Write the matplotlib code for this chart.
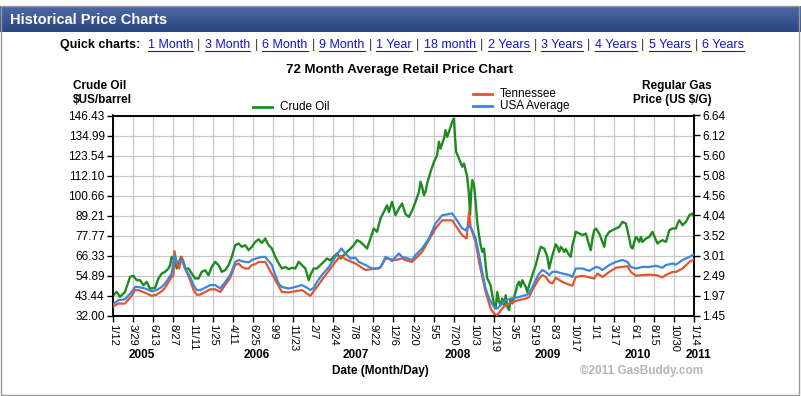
import matplotlib
matplotlib.use("Agg")
import matplotlib.pyplot as plt
import numpy as np
from matplotlib.lines import Line2D
from matplotlib.patches import Rectangle

plt.rcParams["font.family"] = ["Liberation Sans", "DejaVu Sans"]

W, H = 801, 396

# ---- data (x in tick units: 0 = 1/12/2005 ... 29 = 1/14/2011) ----
date_labels = ["1/12", "3/29", "6/13", "8/27", "11/11", "1/25", "4/11", "6/25", "9/9",
               "11/23", "2/7", "4/24", "7/8", "9/22", "12/6", "2/20", "5/5", "7/20",
               "10/3", "12/19", "3/5", "5/19", "8/3", "10/17", "1/1", "3/17", "6/1",
               "8/15", "10/30", "1/14"]
years = ["2005", "2006", "2007", "2008", "2009", "2010", "2011"]
year_pos = [1.43, 7.18, 12.1, 17.2, 21.7, 26.2, 29.2]

crude_ticks = ["146.43", "134.99", "123.54", "112.10", "100.66", "89.21", "77.77",
               "66.33", "54.89", "43.44", "32.00"]
gas_ticks = ["6.64", "6.12", "5.60", "5.08", "4.56", "4.04", "3.52", "3.01", "2.49",
             "1.97", "1.45"]

crude_t = [0.00, 0.18, 0.35, 0.52, 0.60, 0.85, 1.02, 1.18, 1.35, 1.52, 1.68, 1.85, 2.10,
           2.27, 2.43, 2.60, 2.77, 2.85, 2.93, 3.02, 3.10, 3.18, 3.30, 3.40, 3.52, 3.60,
           3.77, 3.93, 4.10, 4.27, 4.43, 4.60, 4.77, 4.93, 5.10, 5.27, 5.43, 5.60, 5.77,
           5.93, 6.10, 6.27, 6.43, 6.60, 6.77, 6.93, 7.10, 7.27, 7.43, 7.60, 7.77, 7.93,
           8.10, 8.27, 8.43, 8.60, 8.77, 8.93, 9.10, 9.27, 9.43, 9.60, 9.77, 9.85, 10.02,
           10.18, 10.35, 10.52, 10.68, 10.85, 11.02, 11.18, 11.35, 11.52, 11.68, 11.85,
           12.02, 12.18, 12.35, 12.52, 12.68, 12.85, 13.02, 13.18, 13.35, 13.52, 13.68,
           13.77, 13.93, 14.10, 14.27, 14.43, 14.60, 14.77, 14.93, 15.10, 15.27, 15.35,
           15.43, 15.52, 15.60, 15.68, 15.85, 16.02, 16.18, 16.27, 16.35, 16.52, 16.60,
           16.68, 16.77, 16.85, 16.93, 17.02, 17.07, 17.13, 17.27, 17.43, 17.52, 17.60,
           17.68, 17.77, 17.82, 17.88, 17.93, 18.02, 18.10, 18.18, 18.27, 18.35, 18.43,
           18.52, 18.60, 18.68, 18.85, 18.93, 19.02, 19.10, 19.18, 19.27, 19.35, 19.43,
           19.52, 19.60, 19.68, 19.77, 19.85, 19.93, 20.02, 20.10, 20.18, 20.27, 20.35,
           20.43, 20.60, 20.68, 20.77, 20.93, 21.10, 21.27, 21.35, 21.52, 21.68, 21.77,
           21.93, 22.10, 22.18, 22.27, 22.35, 22.43, 22.52, 22.60, 22.77, 22.85, 22.93,
           23.02, 23.10, 23.27, 23.43, 23.60, 23.77, 23.85, 23.93, 24.02, 24.10, 24.27,
           24.43, 24.52, 24.60, 24.77, 24.93, 25.10, 25.27, 25.43, 25.60, 25.68, 25.77,
           25.85, 25.93, 26.02, 26.10, 26.18, 26.27, 26.35, 26.43, 26.60, 26.77, 26.93,
           27.10, 27.18, 27.27, 27.43, 27.60, 27.77, 27.93, 28.10, 28.18, 28.27, 28.43,
           28.60, 28.77, 28.93, 29.00]
crude_v = [43.3, 45.5, 42.7, 44.6, 45.5, 54.1, 54.7, 52.2, 52.2, 49.3, 51.3, 47.4, 47.8,
           53.2, 56.0, 57.0, 58.9, 60.8, 65.6, 64.6, 62.7, 58.9, 62.7, 65.6, 62.7, 58.9,
           58.9, 56.0, 53.2, 53.2, 57.0, 57.9, 55.1, 59.8, 62.7, 60.8, 57.0, 57.9, 60.8,
           65.6, 72.2, 73.2, 71.3, 72.2, 69.4, 71.3, 74.1, 75.6, 73.5, 76.0, 72.2, 70.3,
           65.6, 61.8, 58.9, 59.8, 58.5, 59.3, 58.9, 62.7, 60.8, 58.9, 52.2, 55.1, 58.9,
           58.9, 60.8, 62.7, 64.6, 63.6, 65.6, 67.5, 64.6, 66.5, 68.4, 70.3,
           72.2, 75.1, 74.1, 72.2, 70.3, 76.0, 81.8, 79.9, 87.5, 91.3, 95.1,
           91.3, 97.0, 89.4, 93.2, 96.1, 90.0, 88.4, 92.0, 97.0, 102.8, 108.5,
           105.6, 100.8, 102.8, 107.5, 114.2, 119.9, 123.7, 131.4, 127.5, 133.3, 138.0,
           134.2, 137.1, 139.9, 142.8, 144.7, 134.2, 125.6, 121.8, 117.1, 119.0, 115.2,
           111.3, 100.8, 89.4, 102.8, 109.4, 106.6, 97.0, 85.6, 77.9, 72.2, 68.4,
           70.3, 60.8, 53.2, 49.3, 43.6, 37.9, 36.0, 45.5, 39.8, 37.9, 41.7,
           37.9, 43.6, 37.0, 35.1, 41.7, 38.9, 42.7, 45.5, 49.3, 51.3, 48.4,
           52.2, 48.4, 45.5, 49.3, 55.1, 60.8, 68.4, 71.3, 70.3, 65.6, 58.9,
           66.5, 72.7, 71.3, 68.4, 71.3, 70.3, 68.4, 69.9, 66.5, 65.6, 72.2,
           76.0, 79.9, 78.9, 78.0, 78.9, 72.2, 69.4, 76.0, 80.8, 81.8, 78.9,
           74.1, 71.3, 77.0, 79.9, 80.8, 81.8, 82.7, 85.6, 84.6, 80.8, 76.0,
           71.3, 70.3, 74.1, 77.0, 76.0, 74.1, 77.0, 74.1, 76.0, 77.0, 79.9,
           75.1, 73.2, 74.1, 75.1, 74.1, 80.8, 81.8, 81.8, 84.6, 86.5, 83.7,
           85.6, 89.4, 90.4, 88.5]

usa_t = [0.00, 0.27, 0.60, 0.93, 1.10, 1.27, 1.60, 1.93, 2.18, 2.43, 2.60, 2.77, 2.93,
         3.05, 3.15, 3.27, 3.43, 3.60, 3.85, 4.02, 4.18, 4.35, 4.60, 4.85, 5.10, 5.35,
         5.60, 5.85, 6.10, 6.27, 6.43, 6.60, 6.77, 6.93, 7.10, 7.27, 7.43, 7.60, 7.93,
         8.10, 8.27, 8.43, 8.77, 9.10, 9.43, 9.68, 9.85, 10.02, 10.18, 10.43, 10.77,
         11.10, 11.40, 11.60, 11.85, 12.10, 12.27, 12.60, 12.93, 13.27, 13.43, 13.60,
         13.77, 13.93, 14.10, 14.27, 14.43, 14.60, 14.93, 15.10, 15.43, 15.77, 16.10,
         16.43, 16.93, 17.10, 17.43, 17.60, 17.77, 17.93, 18.10, 18.27, 18.43, 18.60,
         18.77, 19.02, 19.18, 19.35, 19.60, 19.93, 20.27, 20.60, 20.77, 20.93, 21.10,
         21.27, 21.43, 21.60, 21.77, 21.93, 22.10, 22.43, 22.77, 22.93, 23.10, 23.43,
         23.77, 24.10, 24.27, 24.43, 24.77, 25.10, 25.43, 25.68, 25.85, 26.10, 26.43,
         26.77, 27.10, 27.43, 27.60, 27.93, 28.10, 28.43, 28.77, 29.00]
usa_v = [1.74, 1.85, 1.87, 2.06, 2.19, 2.19, 2.15, 2.08, 2.11, 2.19, 2.28, 2.41, 2.54,
         3.00, 2.86, 2.84, 2.89, 2.67, 2.45, 2.24, 2.11, 2.11, 2.17, 2.24, 2.24, 2.15,
         2.32, 2.50, 2.84, 2.89, 2.86, 2.84, 2.83, 2.89, 2.92, 2.95, 2.97, 2.97, 2.76,
         2.50, 2.28, 2.19, 2.15, 2.19, 2.24, 2.17, 2.11, 2.17, 2.32, 2.50, 2.71,
         2.97, 3.19, 3.06, 2.93, 2.95, 2.84, 2.76, 2.67, 2.67, 2.77, 2.97,
         2.93, 2.86, 2.97, 3.06, 2.97, 2.95, 2.89, 3.02, 3.19, 3.45, 3.84,
         4.05, 4.10, 3.97, 3.71, 3.66, 3.79, 3.66, 3.45, 3.02, 2.58, 2.15,
         1.89, 1.67, 1.63, 1.72, 1.85, 1.89, 1.93, 1.98, 2.02, 2.19, 2.37,
         2.54, 2.63, 2.58, 2.50, 2.58, 2.59, 2.54, 2.50, 2.45, 2.67, 2.67,
         2.61, 2.71, 2.69, 2.63, 2.76, 2.84, 2.89, 2.84, 2.71, 2.67, 2.71,
         2.71, 2.74, 2.69, 2.76, 2.80, 2.77, 2.89, 2.97, 3.04]

tn_t = [0.00, 0.27, 0.60, 0.93, 1.10, 1.27, 1.60, 1.93, 2.18, 2.43, 2.60, 2.77, 2.93,
        3.02, 3.07, 3.18, 3.30, 3.43, 3.60, 3.85, 4.02, 4.18, 4.35, 4.60, 4.85, 5.10,
        5.35, 5.60, 5.85, 6.10, 6.27, 6.43, 6.60, 6.77, 6.93, 7.10, 7.27, 7.60, 8.10,
        8.43, 8.77, 9.43, 9.85, 10.43, 11.10, 11.35, 11.60, 12.10, 12.60, 13.10, 13.35,
        13.60, 14.10, 14.43, 14.60, 14.93, 15.43, 16.10, 16.43, 16.93, 17.43, 17.65,
        17.77, 17.85, 17.93, 18.10, 18.27, 18.60, 18.85, 19.02, 19.18, 19.43, 19.60,
        19.93, 20.27, 20.60, 20.77, 20.93, 21.27, 21.43, 21.60, 21.77, 21.93, 22.10,
        22.43, 22.77, 22.93, 23.10, 23.43, 23.77, 24.02, 24.18, 24.43, 24.77, 25.10,
        25.43, 25.68, 25.85, 26.10, 26.43, 26.77, 27.10, 27.43, 27.60, 27.93, 28.10,
        28.43, 28.77, 29.00]
tn_v = [1.68, 1.76, 1.76, 1.96, 2.11, 2.11, 2.04, 1.96, 1.99, 2.08, 2.17, 2.32, 2.45,
        2.50, 3.12, 2.80, 2.67, 2.97, 2.67, 2.37, 2.11, 1.99, 1.99, 2.06, 2.13, 2.13,
        2.06, 2.24, 2.43, 2.76, 2.80, 2.71, 2.67, 2.67, 2.76, 2.78, 2.84, 2.84, 2.37,
        2.06, 2.05, 2.11, 1.96, 2.37, 2.84, 3.00, 2.91, 2.80, 2.63, 2.67, 2.69,
        2.93, 2.89, 2.93, 2.89, 2.84, 3.10, 3.71, 3.92, 3.92, 3.53, 3.45,
        4.14, 3.75, 3.62, 3.36, 2.84, 2.06, 1.63, 1.50, 1.46, 1.63, 1.72,
        1.80, 1.85, 1.89, 1.93, 2.11, 2.41, 2.50, 2.45, 2.32, 2.28, 2.43,
        2.32, 2.25, 2.22, 2.45, 2.48, 2.44, 2.41, 2.54, 2.45, 2.58, 2.69,
        2.71, 2.73, 2.58, 2.48, 2.50, 2.51, 2.50, 2.44, 2.50, 2.58, 2.58,
        2.67, 2.84, 2.91]

GREEN = "#1f8a1f"
RED = "#e2552f"
BLUE = "#3b86df"


def fx(px):
    return px / W


def fy(py):
    return 1 - py / H


fig = plt.figure(figsize=(W / 100, H / 100), dpi=100, facecolor="white")

# header bar + frame
fig.add_artist(Rectangle((fx(0.5), fy(395)), fx(798), 389 / H, transform=fig.transFigure,
                         fill=False, edgecolor="#9a9a9a", lw=1))
hdr = fig.add_axes([0, fy(32), 1, 26 / H])
grad = np.linspace(0, 1, 50).reshape(-1, 1)
hdr.imshow(grad, aspect="auto", cmap=matplotlib.colors.LinearSegmentedColormap.from_list(
    "hdr", ["#4b69a6", "#2a4780"]), extent=[0, 1, 0, 1])
hdr.set_axis_off()
fig.text(fx(10), fy(19.5), "Historical Price Charts", color="white", fontsize=10.5,
         fontweight="bold", va="center", ha="left")

# quick chart links
fig.text(fx(60), fy(45), "Quick charts:", fontsize=9, fontweight="bold", va="center")
links = ["1 Month", "3 Month", "6 Month", "9 Month", "1 Year", "18 month", "2 Years",
         "3 Years", "4 Years", "5 Years", "6 Years"]
fig.canvas.draw()
renderer = fig.canvas.get_renderer()
xpos = 148
for i, lab in enumerate(links):
    t = fig.text(fx(xpos), fy(45), lab, fontsize=9, color="#1515cc", va="center")
    bb = t.get_window_extent(renderer)
    fig.add_artist(Line2D([fx(xpos), fx(xpos + bb.width)], [fy(51), fy(51)],
                          transform=fig.transFigure, color="#1515cc", lw=0.8))
    xpos += bb.width + 4
    if i < len(links) - 1:
        s = fig.text(fx(xpos), fy(45), "|", fontsize=9, color="#333333", va="center")
        xpos += s.get_window_extent(renderer).width + 4.5

# chart axes
ax = fig.add_axes([fx(113), fy(315.5), 581 / W, 200 / H])
ax2 = ax.twinx()
ax.plot(crude_t, crude_v, color=GREEN, lw=1.7, zorder=3)
ax2.plot(tn_t, tn_v, color=RED, lw=1.6, zorder=3)
ax2.plot(usa_t, usa_v, color=BLUE, lw=1.6, zorder=3)

ax.set_xlim(0, 29)
ax.set_ylim(32.0, 146.43)
ax2.set_ylim(1.45, 6.64)
ax.set_xticks(range(len(date_labels)))
ax.set_xticklabels(date_labels, rotation=-90, va="top", ha="center", fontsize=8)
ax.set_yticks(np.linspace(32.0, 146.43, 11))
ax.set_yticklabels(crude_ticks[::-1], fontsize=8.5)
ax2.set_yticks(np.linspace(1.45, 6.64, 11))
ax2.set_yticklabels(gas_ticks[::-1], fontsize=8.5)
ax.grid(True, color="#c8c8c8", lw=0.9)
ax.set_axisbelow(True)
for a in (ax, ax2):
    a.tick_params(length=4, width=1, pad=2, colors="black")
    for sp in a.spines.values():
        sp.set_linewidth(1.2)
        sp.set_color("black")

for y, x in zip(years, year_pos):
    ax.text(x, -0.2, y, transform=ax.get_xaxis_transform(), ha="center", va="center",
            fontsize=8.5, fontweight="bold")

# titles and labels
fig.text(fx(400), fy(70), "72 Month Average Retail Price Chart", ha="center", va="center",
         fontsize=9.5, fontweight="bold")
fig.text(fx(73), fy(93), "Crude Oil\n$US/barrel", ha="left", va="center", fontsize=8.5,
         fontweight="bold", linespacing=1.15)
fig.text(fx(712), fy(93), "Regular Gas\nPrice (US $/G)", ha="right", va="center",
         fontsize=8.5, fontweight="bold", linespacing=1.15, multialignment="right")
fig.text(fx(380), fy(371), "Date (Month/Day)", ha="center", va="center", fontsize=8.5,
         fontweight="bold")
fig.text(fx(703), fy(371), "\u00a92011 GasBuddy.com", ha="right", va="center",
         fontsize=8.5, fontweight="bold", color="#b5b5b5")

# legend
for (x0, y0, col, lab) in [(253, 107, GREEN, "Crude Oil"), (473, 94, RED, "Tennessee"),
                           (473, 106, BLUE, "USA Average")]:
    fig.add_artist(Line2D([fx(x0), fx(x0 + 19)], [fy(y0), fy(y0)], transform=fig.transFigure,
                          color=col, lw=2))
    fig.text(fx(x0 + 27), fy(y0), lab, ha="left", va="center", fontsize=8.5)

fig.savefig("out.png", dpi=100, facecolor="white")
